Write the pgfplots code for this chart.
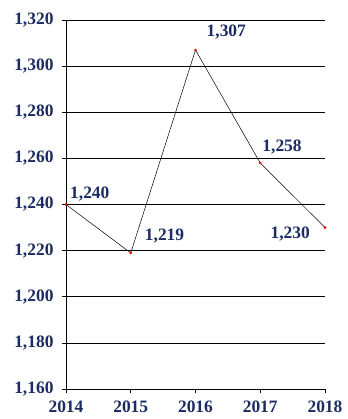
\documentclass[border=0pt]{standalone}
\usepackage{fontspec}
\setmainfont{Liberation Serif}
\usepackage{pgfplots}
\pgfplotsset{compat=1.18}
\definecolor{navy}{RGB}{28,44,98}
\begin{document}
\begin{tikzpicture}
\path[use as bounding box] (-66bp,-30bp) rectangle (282bp,389bp);
\begin{axis}[
  at={(0,0)}, anchor=south west,
  scale only axis, width=259bp, height=369bp,
  xmin=2014, xmax=2018, ymin=1160, ymax=1320,
  xtick={2014,2015,2016,2017,2018},
  ytick={1160,1180,...,1320},
  axis x line=bottom, axis y line=left,
  axis line style={-, black, line width=0.6pt},
  tick style={black, line width=0.6pt},
  tick align=outside, major tick length=4bp,
  ymajorgrids, grid style={black, line width=0.6pt},
  /pgf/number format/assume math mode=true,
  tick label style={font=\fontsize{17.5}{20}\selectfont\bfseries, text=navy},
  yticklabel style={/pgf/number format/1000 sep={,}, xshift=-5bp},
  xticklabel style={/pgf/number format/1000 sep=, yshift=-4bp},
  clip=false,
]
\addplot[black, line width=0.5pt, mark=*, mark size=1.1pt,
  mark options={red, draw=red}] coordinates {
  (2014,1240) (2015,1219) (2016,1307) (2017,1258) (2018,1230)
};
\begin{scope}[every node/.style={font=\fontsize{17.5}{20}\selectfont\bfseries, text=navy, inner sep=0pt}]
\node[anchor=west] at (axis cs:2014,1240) [xshift=4bp, yshift=10bp] {1,240};
\node[anchor=west] at (axis cs:2015,1219) [xshift=14bp, yshift=17bp] {1,219};
\node[anchor=west] at (axis cs:2016,1307) [xshift=11bp, yshift=18bp] {1,307};
\node[anchor=west] at (axis cs:2017,1258) [xshift=2bp, yshift=16bp] {1,258};
\node[anchor=east] at (axis cs:2018,1230) [xshift=-15bp, yshift=-6bp] {1,230};
\end{scope}
\end{axis}
\end{tikzpicture}
\end{document}
